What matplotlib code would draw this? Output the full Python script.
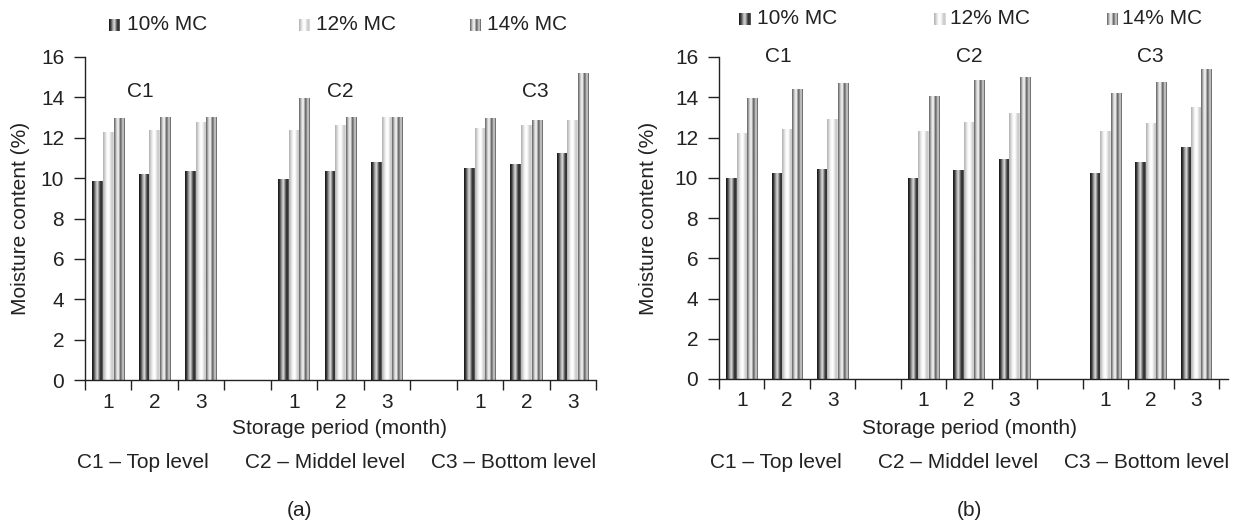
import numpy as np
import matplotlib
matplotlib.use('Agg')
import matplotlib.pyplot as plt

W, H = 1237, 521
plt.rcParams['font.family'] = ['Liberation Sans', 'DejaVu Sans']
plt.rcParams['font.size'] = 15

series = ['10% MC', '12% MC', '14% MC']
months = ['1', '2', '3']
levels = ['C1', 'C2', 'C3']
level_names = ['C1 – Top level', 'C2 – Middel level', 'C3 – Bottom level']

# rows = level C1..C3, columns = month 1..3
a_mc10 = [[9.83, 10.18, 10.33], [9.93, 10.33, 10.78], [10.48, 10.68, 11.23]]
a_mc12 = [[12.25, 12.37, 12.77], [12.37, 12.60, 12.98], [12.48, 12.62, 12.87]]
a_mc14 = [[12.97, 12.98, 12.98], [13.93, 12.98, 12.98], [12.93, 12.87, 15.18]]

b_mc10 = [[9.97, 10.22, 10.42], [9.97, 10.38, 10.92], [10.22, 10.77, 11.48]]
b_mc12 = [[12.18, 12.38, 12.90], [12.30, 12.73, 13.18], [12.30, 12.70, 13.47]]
b_mc14 = [[13.92, 14.37, 14.67], [14.02, 14.82, 14.97], [14.17, 14.72, 15.37]]

# grey shading across each bar (left -> right), imitating the shaded columns
shades = [
    np.array([0.12, 0.25, 0.50, 0.72, 0.82, 0.60, 0.30, 0.15, 0.35]),
    np.array([0.72, 0.82, 0.92, 0.98, 1.00, 0.95, 0.86, 0.78, 0.85]),
    np.array([0.45, 0.68, 0.88, 0.95, 0.68, 0.38, 0.62, 0.85, 0.45]),
]

ink = '#222222'


def fx(x):
    return x / W


def fy(y):
    return 1 - y / H


def shaded_bars(ax, x, h, w, prof):
    bars = ax.bar(x, h, w, color='none', edgecolor='none')
    for b in bars:
        ax.imshow(prof[np.newaxis, :], cmap='gray', vmin=0, vmax=1, aspect='auto',
                  interpolation='bilinear', zorder=2,
                  extent=(b.get_x(), b.get_x() + b.get_width(), 0, b.get_height()))


def panel(ax, data, xmax, c_pos, c_y):
    bw = 0.228
    slots = np.array([4 * i + j for i in range(3) for j in range(3)]) + 0.5
    for k, vals in enumerate(data):
        v = np.array(vals).ravel()
        shaded_bars(ax, slots + (k - 1) * bw, v, bw, shades[k])
    ax.set_xlim(0, xmax)
    ax.set_ylim(0, 16)
    ax.set_yticks(range(0, 17, 2))
    ax.set_xticks(range(0, 12))
    ax.set_xticklabels([])
    ax.set_xticks(slots, minor=True)
    ax.set_xticklabels(months * 3, minor=True)
    ax.tick_params(axis='x', which='major', direction='out', length=7, width=1, color=ink)
    ax.tick_params(axis='x', which='minor', length=0, pad=9, colors=ink)
    ax.tick_params(axis='y', direction='out', length=8, width=1, pad=7, colors=ink)
    for s in ['top', 'right']:
        ax.spines[s].set_visible(False)
    for s in ['left', 'bottom']:
        ax.spines[s].set_color(ink)
        ax.spines[s].set_linewidth(1)
    for i, lab in enumerate(levels):
        ax.text(c_pos[i], c_y, lab, ha='center', va='center', color=ink, clip_on=False)


def legend(y, marks, texts):
    for k in range(3):
        lx = fig.add_axes([fx(marks[k]), fy(y + 6), fx(11), 12 / H])
        lx.imshow(shades[k][np.newaxis, :], cmap='gray', vmin=0, vmax=1, aspect='auto',
                  interpolation='bilinear')
        lx.axis('off')
        fig.text(fx(texts[k]), fy(y), series[k], ha='left', va='center', color=ink)


fig = plt.figure(figsize=(W / 100, H / 100), dpi=100)

# panel (a)
ax1 = fig.add_axes([fx(85), fy(380), fx(596 - 85), (380 - 57) / H])
panel(ax1, [a_mc10, a_mc12, a_mc14], 11, [1.2, 5.5, 9.7], 14.3)
legend(25, [109, 299, 470], [127, 316, 487])
fig.text(fx(21), fy(218), 'Moisture content (%)', rotation=90, ha='center', va='center', color=ink)
fig.text(fx(340), fy(428), 'Storage period (month)', ha='center', va='center', color=ink)
for x, t in zip([77, 245, 431], level_names):
    fig.text(fx(x), fy(462), t, ha='left', va='center', color=ink)
fig.text(fx(300), fy(510), '(a)', ha='center', va='center', color=ink)

# panel (b)
ax2 = fig.add_axes([fx(719), fy(379), 11.2 * 45.45 / W, (379 - 57) / H])
panel(ax2, [b_mc10, b_mc12, b_mc14], 11.2, [1.3, 5.5, 9.5], 16.0)
legend(19, [739, 934, 1107], [757, 950, 1122])
fig.text(fx(649), fy(218), 'Moisture content (%)', rotation=90, ha='center', va='center', color=ink)
fig.text(fx(969), fy(429), 'Storage period (month)', ha='center', va='center', color=ink)
for x, t in zip([710, 878, 1064], level_names):
    fig.text(fx(x), fy(463), t, ha='left', va='center', color=ink)
fig.text(fx(969), fy(510), '(b)', ha='center', va='center', color=ink)

fig.savefig('out.png', dpi=100)
